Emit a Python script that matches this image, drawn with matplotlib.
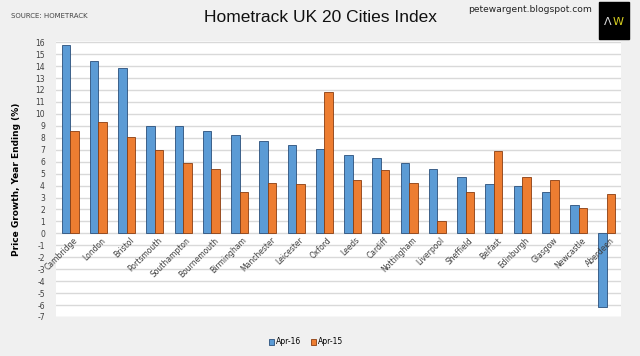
import matplotlib.pyplot as plt
import numpy as np
from matplotlib.patches import Rectangle

cities = ["Cambridge", "London", "Bristol", "Portsmouth", "Southampton", "Bournemouth",
          "Birmingham", "Manchester", "Leicester", "Oxford", "Leeds", "Cardiff",
          "Nottingham", "Liverpool", "Sheffield", "Belfast", "Edinburgh", "Glasgow",
          "Newcastle", "Aberdeen"]
apr16 = [15.8, 14.4, 13.8, 9.0, 9.0, 8.6, 8.2, 7.7, 7.4, 7.1, 6.6, 6.3,
         5.9, 5.4, 4.7, 4.1, 4.0, 3.5, 2.4, -6.2]
apr15 = [8.6, 9.3, 8.1, 7.0, 5.9, 5.4, 3.5, 4.2, 4.1, 11.8, 4.5, 5.3,
         4.2, 1.0, 3.5, 6.9, 4.7, 4.5, 2.1, 3.3]
yticks = list(range(-7, 17))

bg = "#f0f0f0"
blue = "#5b9bd5"
orange = "#ed7d31"

fig = plt.figure(figsize=(6.4, 3.56), dpi=100, facecolor=bg)
ax = fig.add_axes([56 / 640, 1 - 317 / 356, 565 / 640, 276 / 356])
ax.set_facecolor("white")

x = np.arange(len(cities))
w = 0.3
ax.bar(x - w / 2, apr16, w, color=blue, edgecolor="#2a4f7a", linewidth=0.6, label="Apr-16", zorder=3)
ax.bar(x + w / 2, apr15, w, color=orange, edgecolor="#8a3d10", linewidth=0.6, label="Apr-15", zorder=3)

ax.set_xlim(-0.5, len(cities) - 0.5)
ax.set_ylim(-7, 16.1)
ax.set_yticks(yticks)
ax.set_yticklabels([str(t) for t in yticks], fontsize=5.5, color="#404040")
ax.tick_params(axis="y", length=0, pad=8)
ax.grid(axis="y", color="#d9d9d9", linewidth=1, zorder=0)
for s in ax.spines.values():
    s.set_visible(False)

# category labels sit on the zero line
ax.set_xticks([])
for i, c in enumerate(cities):
    ax.text(i + 0.1, -0.2, c, rotation=45, ha="right", va="top", fontsize=5.5,
            color="#404040", rotation_mode="anchor")

ax.set_ylabel("Price Growth, Year Ending (%)", fontsize=6.5, fontweight="bold", labelpad=10)

fig.text(0.5, 0.95, "Hometrack UK 20 Cities Index", ha="center", va="center",
         fontsize=12.5, family="Liberation Sans", color="#111111")
fig.text(11 / 640, 1 - 16 / 356, "SOURCE: HOMETRACK", fontsize=5, color="#444444", va="center")
fig.text(592 / 640, 1 - 10 / 356, "petewargent.blogspot.com", fontsize=6.6, color="#222222",
         ha="right", va="center")

# logo box
fig.patches.append(Rectangle((599 / 640, 1 - 39 / 356), 30 / 640, 37 / 356,
                             transform=fig.transFigure, color="black"))
fig.text(612 / 640, 1 - 22 / 356, "Λ", fontsize=8, color="#dddddd", ha="right", va="center")
fig.text(612.5 / 640, 1 - 22 / 356, "W", fontsize=8, color="#d8d020", ha="left", va="center")

fig.legend(loc="center", bbox_to_anchor=(306 / 640, 1 - 342 / 356), ncol=2, frameon=False,
           fontsize=5.5, handlelength=0.7, handleheight=0.7, handletextpad=0.3, columnspacing=1.2)

plt.savefig("out.png", dpi=100, facecolor=bg)
